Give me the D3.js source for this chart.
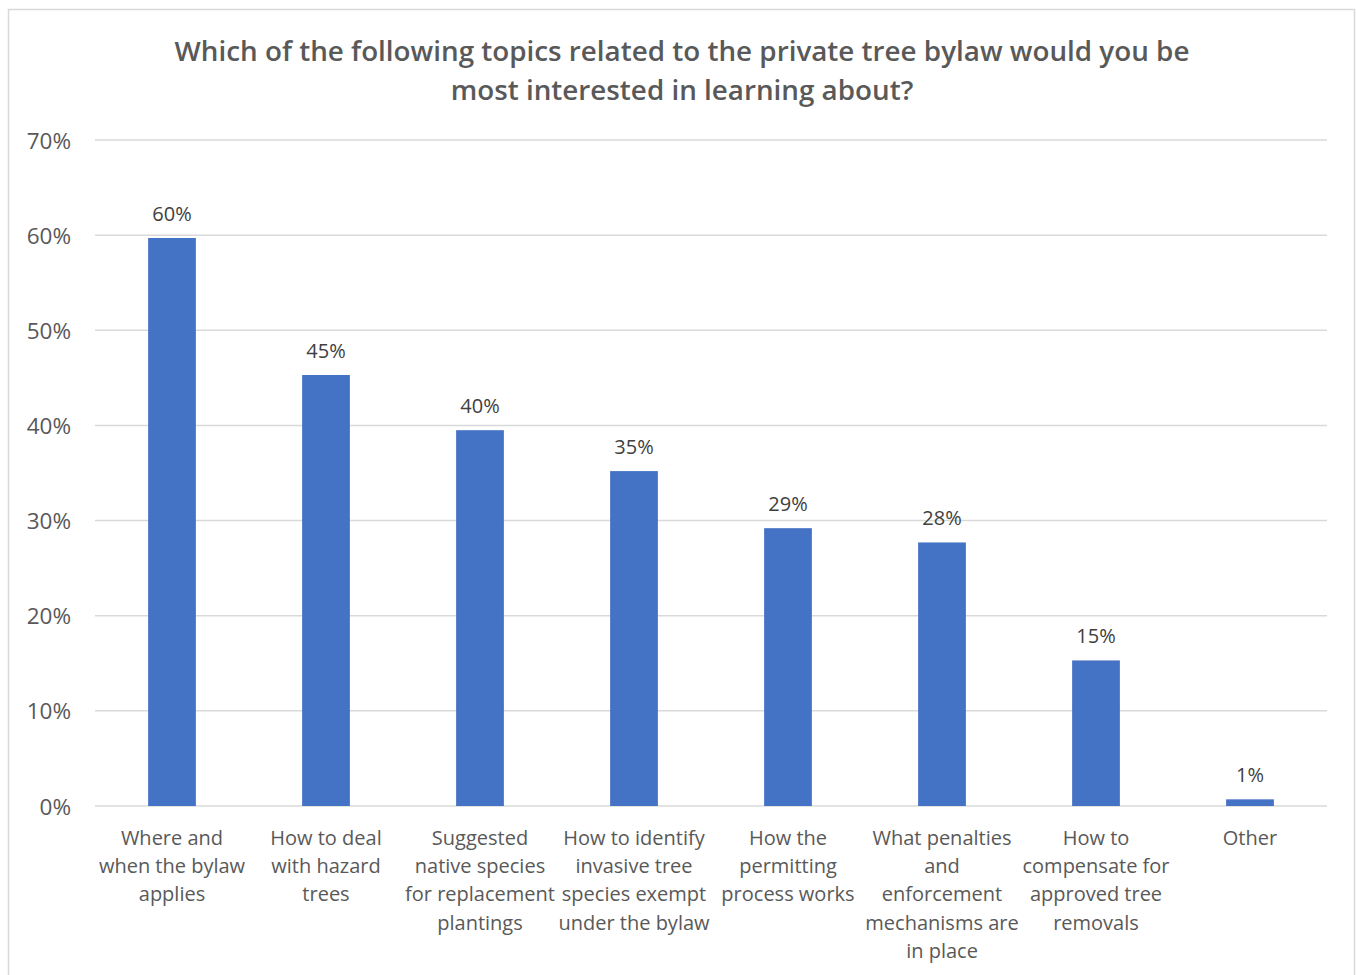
<!DOCTYPE html>
<html><head><meta charset="utf-8">
<script src="https://cdn.jsdelivr.net/npm/d3@7"></script>
<style>body{margin:0;background:#fff;} svg{display:block;font-family:"Open Sans","Noto Sans",sans-serif;}</style>
</head><body>
<svg id="chart" width="1356" height="975"></svg>
<script>
const titleLines = ["Which of the following topics related to the private tree bylaw would you be", "most interested in learning about?"];
const categories = [
  "Where and when the bylaw applies",
  "How to deal with hazard trees",
  "Suggested native species for replacement plantings",
  "How to identify invasive tree species exempt under the bylaw",
  "How the permitting process works",
  "What penalties and enforcement mechanisms are in place",
  "How to compensate for approved tree removals",
  "Other"
];
const categoryLines = [
  ["Where and", "when the bylaw", "applies"],
  ["How to deal", "with hazard", "trees"],
  ["Suggested", "native species", "for replacement", "plantings"],
  ["How to identify", "invasive tree", "species exempt", "under the bylaw"],
  ["How the", "permitting", "process works"],
  ["What penalties", "and", "enforcement", "mechanisms are", "in place"],
  ["How to", "compensate for", "approved tree", "removals"],
  ["Other"]
];
const values = [0.597, 0.453, 0.395, 0.352, 0.292, 0.277, 0.153, 0.007];
const valueLabels = ["60%", "45%", "40%", "35%", "29%", "28%", "15%", "1%"];
const yTicks = [0, 0.1, 0.2, 0.3, 0.4, 0.5, 0.6, 0.7];

const svg = d3.select("#chart");
svg.append("rect").attr("x", 8.5).attr("y", 9.5).attr("width", 1346).attr("height", 980)
  .attr("fill", "#fff").attr("stroke", "#d9d9d9").attr("stroke-width", 1.5);

svg.append("g").selectAll("text").data(titleLines).join("text")
  .attr("x", 682).attr("y", (d, i) => 61 + i * 39)
  .attr("text-anchor", "middle").attr("font-size", 27.8).attr("font-weight", 600)
  .attr("fill", "#595959").text(d => d);

const x = d3.scaleBand().domain(categories).range([95, 1327]).paddingInner(0.69).paddingOuter(0.345);
const y = d3.scaleLinear().domain([0, 0.7]).range([806, 140]);

svg.append("g").selectAll("line").data(yTicks).join("line")
  .attr("x1", 95).attr("x2", 1327).attr("y1", d => y(d)).attr("y2", d => y(d))
  .attr("stroke", "#d9d9d9").attr("stroke-width", 1.5);

const yAxis = d3.axisLeft(y).tickValues(yTicks).tickFormat(d3.format(".0%")).tickSize(0).tickPadding(0);
const yg = svg.append("g").attr("transform", "translate(71,0)").call(yAxis);
yg.select(".domain").remove();
yg.selectAll("text").attr("font-size", 22.5).attr("fill", "#595959").attr("font-family", "'Open Sans','Noto Sans',sans-serif").attr("dy", "0.36em");

svg.append("g").selectAll("rect").data(values).join("rect")
  .attr("x", (d, i) => x(categories[i])).attr("width", x.bandwidth())
  .attr("y", d => y(d)).attr("height", d => y(0) - y(d)).attr("fill", "#4472c4");

svg.append("g").selectAll("text").data(values).join("text")
  .attr("x", (d, i) => x(categories[i]) + x.bandwidth() / 2)
  .attr("y", d => y(d) - 17).attr("text-anchor", "middle")
  .attr("font-size", 20).attr("fill", "#404040").text((d, i) => valueLabels[i]);

const cg = svg.append("g").selectAll("text").data(categories).join("text")
  .attr("x", d => x(d) + x.bandwidth() / 2).attr("y", 845)
  .attr("text-anchor", "middle").attr("font-size", 20).attr("fill", "#595959");
cg.each(function(d, i) {
  const t = d3.select(this);
  categoryLines[i].forEach((ln, j) => {
    t.append("tspan").attr("x", x(d) + x.bandwidth() / 2).attr("y", 845 + j * 28.2).text(ln);
  });
});
</script>
</body></html>
